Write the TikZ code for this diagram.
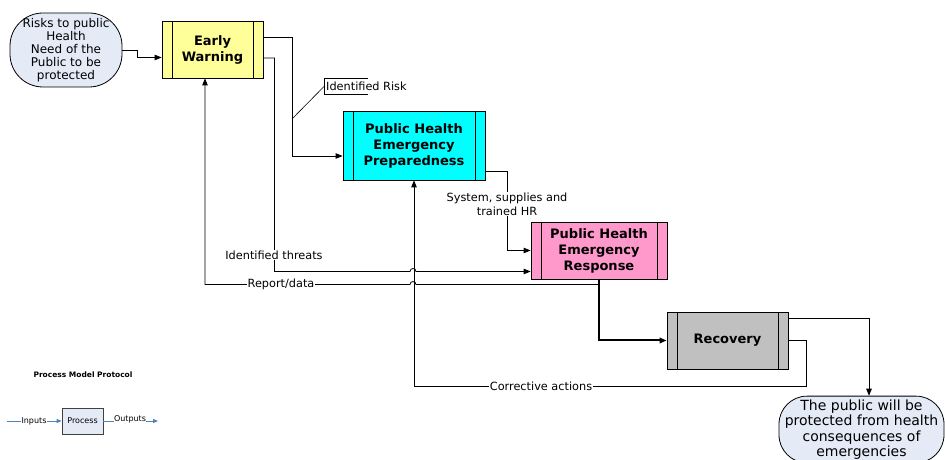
\documentclass[tikz,border=0pt]{standalone}
\usepackage{fontspec}
\setmainfont{DejaVu Sans}
\usepackage{xcolor}
\usetikzlibrary{arrows.meta}
\definecolor{termblue}{HTML}{E4EBF7}
\definecolor{warnyellow}{HTML}{FFFF99}
\definecolor{prepcyan}{HTML}{00FFFF}
\definecolor{resppink}{HTML}{FF99CC}
\definecolor{recovgray}{HTML}{C0C0C0}
\definecolor{legendblue}{HTML}{4F81BD}

\begin{document}
\begin{tikzpicture}[x=1pt, y=1pt,
  procbox/.style={draw, line width=0.8pt, fill=#1, minimum height=57pt, align=center,
    font=\fontsize{13}{16}\selectfont\bfseries,
    path picture={
      \draw[line width=0.8pt] ([xshift=10pt]path picture bounding box.north west) -- ([xshift=10pt]path picture bounding box.south west);
      \draw[line width=0.8pt] ([xshift=-10pt]path picture bounding box.north east) -- ([xshift=-10pt]path picture bounding box.south east);}},
  termnode/.style={draw, line width=0.8pt, fill=termblue, align=center},
  flow/.style={line width=0.8pt, -{Triangle[length=7pt,width=5.5pt]}},
  lbl/.style={fill=white, inner sep=1pt, align=center, font=\fontsize{11.3}{14}\selectfont},
  legflow/.style={legendblue, line width=0.9pt, -{Triangle[length=5pt,width=4pt]}},
  leglbl/.style={fill=white, inner sep=0.5pt, font=\fontsize{8}{9}\selectfont}]
  \useasboundingbox (0,0) rectangle (945,460);

  \node[termnode, rounded corners=33pt, minimum width=112pt, minimum height=74pt, inner sep=1pt, font=\fontsize{12}{13}\selectfont] (start) at (66,410) {Risks to public\\Health\\Need of the\\Public to be\\protected};
  \node[procbox=warnyellow, minimum width=101pt] (warn) at (212.5,410.5) {Early\\Warning};
  \node[procbox=prepcyan, minimum width=142pt, minimum height=69pt] (prep) at (414,314.5) {Public Health\\Emergency\\Preparedness};
  \node[procbox=resppink, minimum width=136pt] (resp) at (599,209.5) {Public Health\\Emergency\\Response};
  \node[procbox=recovgray, minimum width=121pt] (recov) at (727.5,119.5) {Recovery};
  \node[termnode, rounded corners=28pt, minimum width=165pt, minimum height=59pt, font=\fontsize{14}{15.5}\selectfont] (finish) at (861.5,30.5) {The public will be\\protected from health\\consequences of\\emergencies};

  \coordinate (hopA) at (413,188.5);
  \coordinate (hopB) at (413,175.5);
  \coordinate (riskpt) at (292,341);

  \draw[flow] (start.east) -- ++(15,0) |- ([yshift=-8pt]warn.west);
  \draw[flow] ([yshift=12.5pt]warn.east) -- ++(29,0) |- ([yshift=-10.5pt]prep.west);
  \draw[flow] (recov.east) -- ++(18,0) -- ++(0,-45.5) -| (prep.south);
  \draw[flow] ([yshift=-8.5pt]warn.east) -- ++(11,0) |- ([xshift=-3pt]hopA) arc[start angle=180, end angle=0, radius=3] -- ([yshift=-21pt]resp.west);
  \draw[flow] ([yshift=-25.5pt]prep.east) -- ++(22,0) |- (resp.west);
  \draw[flow, line width=2pt] (resp.south) |- (recov.west);
  \draw[flow] (resp.south |- hopB) -- ([xshift=3pt]hopB) arc[start angle=0, end angle=180, radius=3] -| ([xshift=-7.5pt]warn.south);
  \draw[flow] ([yshift=22.5pt]recov.east) -| ([xshift=7.5pt]finish.north);

  \node[lbl] (threats) at (274,205) {Identified threats};
  \node[lbl] (supplies) at (507,256) {System, supplies and\\trained HR};
  \node[lbl] (report) at (281,175.5) {Report/data};
  \node[lbl] (corrective) at (541,74) {Corrective actions};

  \node[anchor=west, inner xsep=2pt, inner ysep=0pt, minimum height=15pt, font=\fontsize{11.3}{14}\selectfont] (risk) at (324,373.5) {Identified Risk};
  \draw[line width=0.6pt] ([xshift=44pt]risk.north west) -- (risk.north west) -- (risk.south west) -- ([xshift=44pt]risk.south west);
  \draw[line width=0.6pt] (riskpt) -- (risk.west);

  \node[font=\fontsize{7.5}{9}\selectfont\bfseries] (legtitle) at (83,85) {Process Model Protocol};
  \node[draw=black!75, line width=0.8pt, fill=termblue, minimum width=41pt, minimum height=26pt, inner sep=1pt, font=\fontsize{8}{9}\selectfont] (legbox) at (82.5,39) {Process};
  \coordinate (legin) at (7,39);
  \coordinate (legout) at (158,39);
  \draw[legflow] (legin) -- (legbox.west);
  \draw[legflow] (legbox.east) -- (legout);
  \node[leglbl] (inputs) at (34,39) {Inputs};
  \node[leglbl] (outputs) at (130,41) {Outputs};
\end{tikzpicture}
\end{document}
